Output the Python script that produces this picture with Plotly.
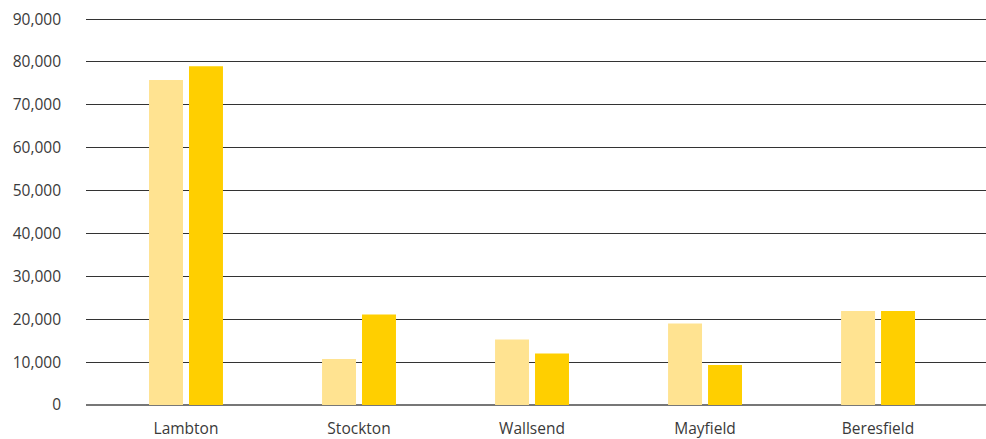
import plotly.graph_objects as go

# Suburb totals, two series per suburb
suburbs = ["Lambton", "Stockton", "Wallsend", "Mayfield", "Beresfield"]
series_a = [75800, 10700, 15300, 19000, 21900]
series_b = [79000, 21100, 12000, 9300, 21900]

y_ticks = [0, 10000, 20000, 30000, 40000, 50000, 60000, 70000, 80000, 90000]
y_tick_text = ["0", "10,000", "20,000", "30,000", "40,000", "50,000",
               "60,000", "70,000", "80,000", "90,000"]

fig = go.Figure()
fig.add_trace(go.Bar(x=suburbs, y=series_a, marker=dict(color="#FFE391", line=dict(width=0)),
                     hoverinfo="x+y"))
fig.add_trace(go.Bar(x=suburbs, y=series_b, marker=dict(color="#FFCF00", line=dict(width=0)),
                     hoverinfo="x+y"))

fig.update_layout(
    width=986, height=439,
    margin=dict(l=86, r=0, t=18, b=34),
    paper_bgcolor="white", plot_bgcolor="white",
    barmode="group", bargap=0.538, bargroupgap=0.15,
    showlegend=False,
    font=dict(family="'Open Sans', sans-serif", size=15.5, color="#3a3a3a"),
    xaxis=dict(
        range=[-0.578, 4.624],
        showgrid=False, showline=False, zeroline=False, ticks="",
        ticklabelstandoff=12,
    ),
    yaxis=dict(
        range=[0, 90250],
        tickvals=y_ticks, ticktext=y_tick_text,
        showgrid=True, gridcolor="#333333", gridwidth=1,
        zeroline=True, zerolinecolor="#777777", zerolinewidth=2,
        showline=False, ticks="",
        ticklabelstandoff=24,
    ),
)

fig.write_html("out.html")
